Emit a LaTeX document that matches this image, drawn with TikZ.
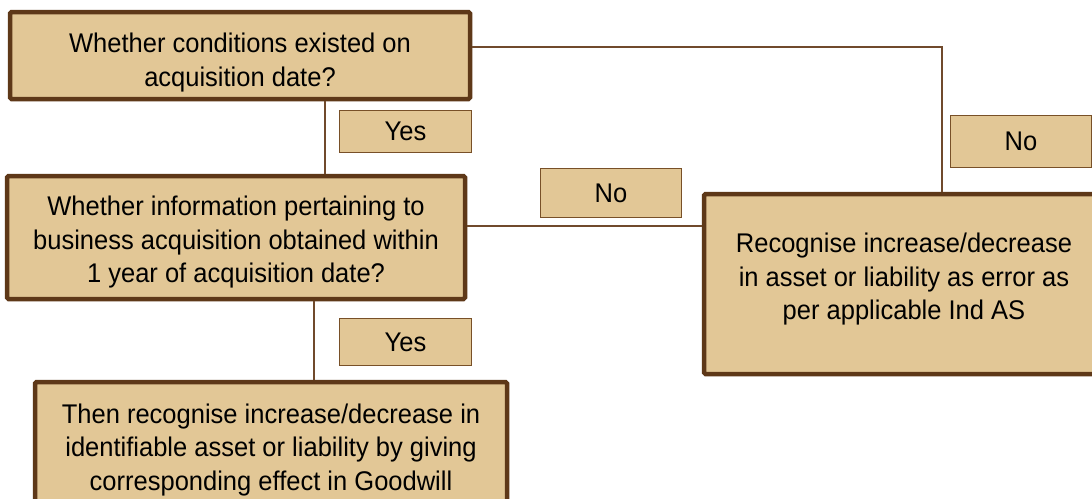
\documentclass[tikz,border=0pt]{standalone}
\usepackage{fontspec}
\setmainfont{Liberation Sans}[FakeStretch=0.945]
\definecolor{boxfill}{RGB}{226,199,150}
\definecolor{boxedge}{RGB}{94,56,24}
\definecolor{lbledge}{RGB}{120,80,40}
\definecolor{connclr}{RGB}{112,74,44}
\tikzset{
  bigbox/.style={draw=boxedge, fill=boxfill, line width=4.5pt, rounded corners=1.5pt,
    inner sep=0pt},
  boxtext/.style={inner sep=0pt, align=center, font=\fontsize{27}{33.5}\selectfont},
  lblbox/.style={draw=lbledge, fill=boxfill, line width=1.5pt,
    inner sep=0pt, font=\fontsize{27}{33.5}\selectfont},
  conn/.style={draw=connclr, line width=1.5pt}
}
\begin{document}
\begin{tikzpicture}[x=1pt,y=-1pt]
\clip (0,0) rectangle (1092,498);
\fill[white] (0,0) rectangle (1092,498);
\node[bigbox, minimum width=460pt, minimum height=87pt,
  label={[boxtext, name=t1, yshift=-7pt]center:{Whether conditions existed on\\acquisition date?}}] (b1) at (240,55.5) {};
\node[bigbox, minimum width=458pt, minimum height=123pt,
  label={[boxtext, name=t2, yshift=-5pt]center:{Whether information pertaining to\\business acquisition obtained within\\1 year of acquisition date?}}] (b2) at (236,237.5) {};
\node[bigbox, minimum width=472pt, minimum height=134pt,
  label={[boxtext, name=t3, yshift=-1pt]center:{Then recognise increase/decrease in\\identifiable asset or liability by giving\\corresponding effect in Goodwill}}] (b3) at (271,449) {};
\node[bigbox, minimum width=400pt, minimum height=180pt,
  label={[boxtext, name=t4, yshift=4.5pt]center:{Recognise increase/decrease\\in asset or liability as error as\\per applicable Ind AS}}] (b4) at (904,284) {};
\node[lblbox, minimum width=132pt, minimum height=42pt] (y1) at (405.5,131.5) {Yes};
\node[lblbox, minimum width=132pt, minimum height=47pt] (y2) at (405.5,342) {Yes};
\node[lblbox, minimum width=141pt, minimum height=49pt] (n1) at (611,193) {No};
\node[lblbox, minimum width=141pt, minimum height=52pt] (n2) at (1021,141.5) {No};
\draw[conn] ([xshift=85pt]b1.south) -- ([xshift=85pt]b1.south |- b2.north);
\draw[conn] ([yshift=8.5pt]b1.east) -| ([xshift=38pt]b4.north);
\draw[conn] ([yshift=11.5pt]b2.east) -- ([yshift=11.5pt]b2.east -| b4.west);
\draw[conn] ([xshift=78pt]b2.south) -- ([xshift=78pt]b2.south |- b3.north);
\end{tikzpicture}
\end{document}
